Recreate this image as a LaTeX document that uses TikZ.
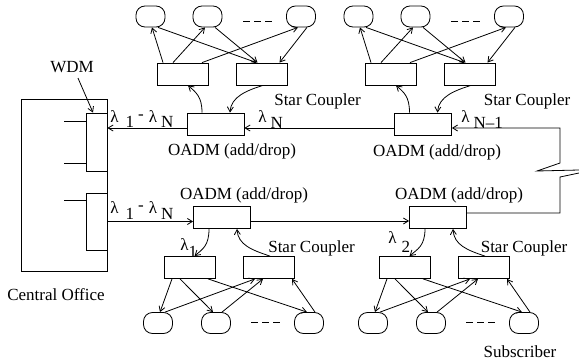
\documentclass[tikz,border=0pt]{standalone}
\usepackage{fontspec}
\setmainfont{Liberation Serif}
\usetikzlibrary{arrows.meta,calc}
\newcommand\dn[2][5pt]{\raisebox{-#1}{#2}}
\tikzset{
  oadm/.style={draw, minimum width=57pt, minimum height=22pt, inner sep=0pt},
  sc/.style={draw, minimum width=51pt, minimum height=22pt, inner sep=0pt},
  sub/.style={draw, rounded corners=9pt, minimum width=29pt, minimum height=21pt, inner sep=0pt},
  wdmbox/.style={draw, minimum width=21pt, inner sep=0pt},
  lbl/.style={inner sep=0pt},
  lam/.style={inner sep=0pt, anchor=base west},
  arr/.style={-{Straight Barb[length=5pt,width=6pt]}},
  gap/.style={dash pattern=on 7pt off 4pt},
}
\newcommand\topgrp[2]{%
  \node[sc] (#1L) at ({182.5+#2},74) {};
  \node[sc] (#1R) at ({261.5+#2},74) {};
  \node[sub] (#1c1) at ({150.5+#2},16.5) {};
  \node[sub] (#1c2) at ({207.5+#2},16.5) {};
  \node[sub] (#1c3) at ({301+#2},16.5) {};
  \coordinate (#1da) at ({243+#2},21);
  \coordinate (#1db) at ({272+#2},21);
  \draw[gap] (#1da) -- (#1db);
  \draw[arr] ([xshift=-19.5pt]#1L.north) -- ([xshift=1.5pt]#1c1.south);
  \draw[arr] ([xshift=-9.5pt]#1L.north) -- ([xshift=-2.5pt]#1c2.south);
  \draw[arr] ([xshift=19.5pt]#1L.north) -- ([xshift=-3pt]#1c3.south);
  \draw[arr] ([xshift=7.5pt]#1c1.south) -- ([xshift=-5pt]#1R.north);
  \draw[arr] ([xshift=7.5pt]#1c2.south) -- ([xshift=-4pt]#1R.north);
  \draw[arr] ([xshift=6pt]#1c3.south) -- ([xshift=18pt]#1R.north);
}
\newcommand\botgrp[2]{%
  \node[sc] (#1L) at ({189.5+#2},267.5) {};
  \node[sc] (#1R) at ({268.5+#2},267.5) {};
  \node[sub] (#1c1) at ({158+#2},323) {};
  \node[sub] (#1c2) at ({216+#2},323) {};
  \node[sub] (#1c3) at ({309+#2},323) {};
  \coordinate (#1da) at ({251+#2},322);
  \coordinate (#1db) at ({280+#2},322);
  \draw[gap] (#1da) -- (#1db);
  \draw[arr] ([xshift=-17.5pt]#1L.south) -- ([xshift=2pt]#1c1.north);
  \draw[arr] ([xshift=-9.5pt]#1L.south) -- ([xshift=-3pt]#1c2.north);
  \draw[arr] ([xshift=18.5pt]#1L.south) -- ([xshift=-2pt]#1c3.north);
  \draw[arr] ([xshift=7pt]#1c1.north) -- ([xshift=-13.5pt]#1R.south);
  \draw[arr] ([xshift=6pt]#1c2.north) -- ([xshift=-5.5pt]#1R.south);
  \draw[arr] ([xshift=6pt]#1c3.north) -- ([xshift=23.5pt]#1R.south);
}
\begin{document}
\begin{tikzpicture}[x=1pt,y=-1pt,font=\fontsize{17}{20}\selectfont,line width=0.8pt]
\useasboundingbox (0,0) rectangle (579,364);
% central office
\node[draw, minimum width=86pt, minimum height=172pt, inner sep=0pt] (co) at (64,185) {};
\node[wdmbox, minimum height=58pt] (w1) at (96.5,142) {};
\node[wdmbox, minimum height=57pt] (w2) at (96.5,221.5) {};
\draw ([yshift=21pt]w1.west) -- ++(-22,0);
\draw ([yshift=-21pt]w1.west) -- ++(-22,0);
\draw ([yshift=21.5pt]w2.west) -- ++(-22,0);
\node[lbl] (wdm) at (72,67) {WDM};
\draw[arr] ([xshift=6pt,yshift=-5pt]wdm.south) -- ([xshift=-3.5pt]w1.north);
\node[lbl] (col) at (56,295) {Central Office};
% OADMs
\node[oadm] (oa1) at (215.5,124) {};
\node[oadm] (oa2) at (423,124) {};
\node[oadm] (oa3) at (222,217.5) {};
\node[oadm] (oa4) at (438,217.5) {};
% star coupler groups
\topgrp{p}{0}
\topgrp{q}{208}
\botgrp{r}{0}
\botgrp{s}{215}
% OADM to star couplers
\draw[arr] ([xshift=-13.5pt]oa1.north) .. controls +(0,-16) and +(8,7) .. ([xshift=5.5pt]pL.south);
\draw[arr] ([xshift=1.5pt]pR.south) .. controls +(-16,5) and +(1,-16) .. ([xshift=14.5pt]oa1.north);
\draw[arr] ([xshift=-13.5pt]oa2.north) .. controls +(0,-16) and +(8,7) .. ([xshift=5.5pt]qL.south);
\draw[arr] ([xshift=1.5pt]qR.south) .. controls +(-16,5) and +(1,-16) .. ([xshift=14.5pt]oa2.north);
\draw[arr] ([xshift=-13pt]oa3.south) .. controls +(0,17) and +(8,-7) .. ([xshift=5pt]rL.north);
\draw[arr] ([xshift=1.5pt]rR.north) .. controls +(-18,-6) and +(1,16) .. ([xshift=15pt]oa3.south);
\draw[arr] ([xshift=-13pt]oa4.south) .. controls +(0,17) and +(8,-7) .. ([xshift=5pt]sL.north);
\draw[arr] ([xshift=1.5pt]sR.north) .. controls +(-18,-6) and +(1,16) .. ([xshift=15pt]oa4.south);
% fibre ring
\draw[arr] ([yshift=-4pt]oa1.west) -- ([yshift=-4pt]oa1.west -| w1.east);
\draw[arr] ([yshift=-4pt]oa2.west) -- ([yshift=-4pt]oa1.east);
\coordinate (bk1) at (560,163);
\coordinate (bk2) at (537,171);
\coordinate (bk3) at (579,170);
\coordinate (bk4) at (579,173);
\coordinate (bk5) at (560,177);
\draw[arr] (bk3) -- (bk2) -- (bk1) |- ([yshift=-4pt]oa2.east);
\draw (bk4) -- (bk5) |- ([yshift=4.5pt]oa4.east);
\draw[arr] (w2.east) -- (w2.east -| oa3.west);
\draw[arr] ([yshift=-3.5pt]oa3.east) -- ([yshift=-3.5pt]oa4.west);
% labels
\node[lbl] (t1) at (232,151) {OADM (add/drop)};
\node[lbl] (t2) at (437,152) {OADM (add/drop)};
\node[lbl] (t3) at (244,195) {OADM (add/drop)};
\node[lbl] (t4) at (459,195) {OADM (add/drop)};
\node[lbl] (s1) at (317.5,101) {Star Coupler};
\node[lbl] (s2) at (527,101) {Star Coupler};
\node[lbl] (s3) at (311.5,248) {Star Coupler};
\node[lbl] (s4) at (524,248) {Star Coupler};
\node[lbl] (sb) at (520,352) {Subscriber};
\node[lam] (la1) at (110,122) {λ\hspace{7pt}\dn{1}\hspace{4pt}\raisebox{3pt}{-}\hspace{5pt}λ\hspace{4pt}\dn{N}};
\node[lam] (la2) at (110,213) {λ\hspace{7pt}\dn[6pt]{1}\hspace{4pt}\raisebox{3pt}{-}\hspace{5pt}λ\hspace{4pt}\dn[6pt]{N}};
\node[lam] (la3) at (258,122) {λ\hspace{4pt}\dn[6pt]{N}};
\node[lam] (la4) at (461,122) {λ\hspace{4pt}\dn[6pt]{N–1}};
\node[lam] (la5) at (180,250) {λ\dn[7pt]{1}};
\node[lam] (la6) at (388,243) {λ\hspace{5pt}\dn[9pt]{2}};
\end{tikzpicture}
\end{document}
